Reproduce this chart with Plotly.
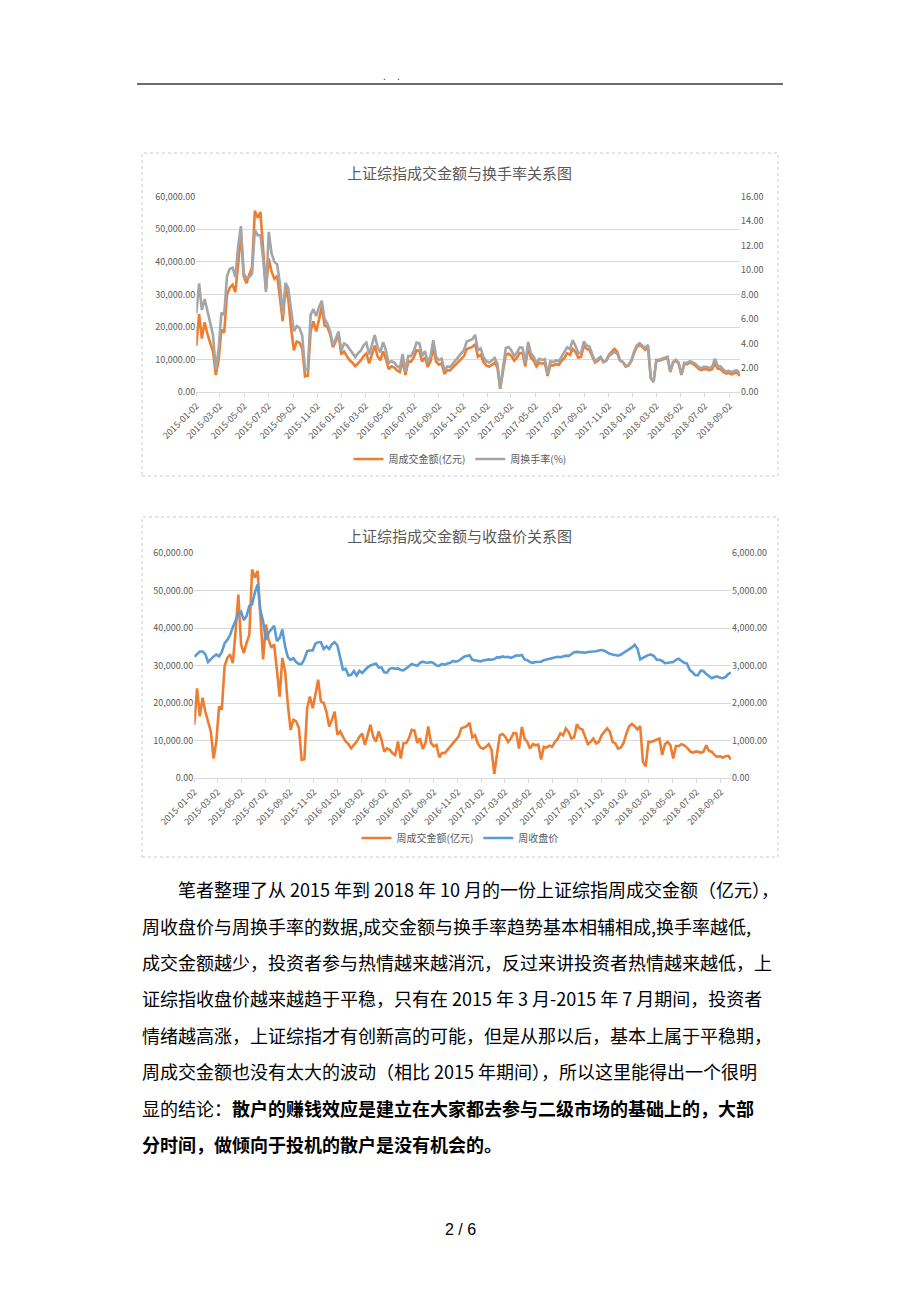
import plotly.graph_objects as go
import pandas as pd

W, H = 920, 1302

# ---------------- data (weekly) ----------------
week_start = "2015-01-02"
n_weeks = 196

amount = [
    14300, 24000, 16500, 21500, 17800, 15200, 12500, 5300, 9800, 19200,
    18300, 29900, 32100, 33000, 30700, 39200, 49000, 35700, 33400, 36100,
    38300, 55700, 53500, 55300, 44600, 31700, 41000, 37000, 34800, 35700,
    29000, 21800, 32100, 28500, 19600, 12900, 15600, 15200, 13400, 4900,
    5100, 18700, 21800, 18700, 22300, 26300, 20500, 20100, 17800, 13800,
    15600, 17800, 11600, 12500, 11100, 9800, 9100, 8000, 8900, 9800,
    11100, 11900, 8900, 11600, 14300, 11100, 9800, 12500, 10300, 7100,
    8000, 7600, 6700, 6200, 9800, 5300, 9400, 9400, 10700, 12900,
    12700, 9400, 10700, 7800, 9400, 13800, 9400, 8500, 8900, 5600,
    6800, 6700, 7600, 8500, 9400, 10300, 11100, 13300, 13700, 13900,
    14800, 10900, 11500, 9300, 8200, 7900, 8400, 9100, 7600, 1100,
    6500, 11500, 11800, 11100, 9700, 10600, 12100, 12000, 7900, 13700,
    10600, 9700, 7900, 9100, 8800, 9000, 5000, 8400, 8200, 8700,
    8400, 9700, 10500, 12000, 11500, 13300, 12400, 10600, 10900, 14400,
    13300, 13000, 11100, 9100, 9700, 10600, 9300, 9700, 11500, 12400,
    13300, 12400, 9700, 9300, 7900, 8200, 9500, 12000, 13900, 14500,
    13900, 13000, 13900, 4400, 3200, 9700, 9700, 10000, 10400, 10600,
    6200, 9100, 9700, 8800, 5300, 8600, 8600, 9100, 8800, 8200,
    7300, 6800, 7100, 7100, 6800, 7100, 8800, 7300, 7100, 6200,
    5700, 5900, 5500, 5900, 6000, 5000,
]

turnover = [
    6.44, 8.90, 6.73, 7.63, 6.65, 5.67, 4.67, 1.84, 3.53, 6.50,
    6.34, 9.49, 10.10, 10.21, 9.41, 11.92, 13.59, 9.71, 9.35, 9.43,
    9.70, 13.28, 12.85, 12.85, 10.83, 8.20, 13.12, 11.35, 10.67, 10.47,
    8.89, 6.30, 8.96, 8.50, 6.53, 4.99, 5.41, 5.27, 4.65, 1.83,
    1.90, 6.33, 6.80, 6.23, 6.96, 7.49, 6.01, 5.63, 4.98, 3.86,
    4.37, 4.98, 3.40, 4.00, 3.85, 3.53, 3.28, 2.88, 3.20, 3.40,
    3.85, 4.06, 3.09, 3.87, 4.69, 3.70, 3.27, 4.10, 3.43, 2.37,
    2.56, 2.43, 2.14, 1.98, 3.14, 1.70, 2.96, 2.96, 3.37, 4.06,
    4.00, 2.96, 3.37, 2.45, 2.96, 4.27, 2.91, 2.63, 2.75, 1.79,
    2.12, 2.07, 2.35, 2.63, 2.91, 3.21, 3.46, 4.15, 4.27, 4.34,
    4.70, 3.43, 3.59, 2.88, 2.54, 2.44, 2.60, 2.81, 2.33, 0.30,
    1.99, 3.62, 3.71, 3.43, 2.97, 3.25, 3.68, 3.65, 2.42, 4.13,
    3.19, 2.92, 2.38, 2.74, 2.65, 2.71, 1.47, 2.53, 2.47, 2.62,
    2.53, 2.92, 3.22, 3.68, 3.53, 4.26, 3.80, 3.17, 3.26, 4.15,
    3.83, 3.74, 3.11, 2.55, 2.72, 2.91, 2.48, 2.59, 2.97, 3.14,
    3.30, 3.14, 2.59, 2.48, 2.15, 2.23, 2.61, 3.33, 3.85, 4.02,
    3.85, 3.61, 3.89, 1.17, 0.85, 2.66, 2.66, 2.75, 2.86, 2.91,
    1.69, 2.50, 2.66, 2.42, 1.44, 2.41, 2.41, 2.55, 2.46, 2.34,
    2.10, 1.96, 2.08, 2.08, 1.99, 2.08, 2.75, 2.18, 2.12, 1.85,
    1.70, 1.76, 1.64, 1.76, 1.79, 1.49,
]

close = [
    3240, 3300, 3380, 3380, 3310, 3100, 3180, 3250, 3300, 3250,
    3370, 3600, 3690, 3820, 4030, 4200, 4380, 4440, 4220, 4330,
    4600, 4640, 4950, 5170, 4480, 4190, 3690, 3880, 3960, 4070,
    3660, 3740, 3970, 3510, 3230, 3160, 3200, 3100, 3050, 3050,
    3180, 3390, 3410, 3410, 3590, 3630, 3630, 3450, 3520, 3450,
    3580, 3630, 3540, 3190, 2900, 2920, 2740, 2760, 2860, 2740,
    2870, 2810, 2900, 2960, 3010, 3040, 3060, 2950, 2960, 2830,
    2820, 2920, 2940, 2920, 2930, 2890, 2880, 2930, 2990, 3050,
    3020, 3000, 3080, 3110, 3090, 3080, 3100, 3070, 3010, 3000,
    3050, 3030, 3060, 3080, 3130, 3110, 3130, 3190, 3240, 3260,
    3280, 3160, 3150, 3130, 3120, 3140, 3160, 3170, 3160, 3180,
    3230, 3220, 3250, 3230, 3240, 3210, 3240, 3280, 3270, 3290,
    3170, 3150, 3100, 3080, 3100, 3110, 3110, 3150, 3170, 3190,
    3210, 3220, 3240, 3230, 3250, 3270, 3260, 3310, 3360, 3370,
    3360, 3360, 3350, 3370, 3370, 3390, 3390, 3410, 3420, 3400,
    3350, 3320, 3300, 3290, 3270, 3300, 3350, 3390, 3430, 3490,
    3560, 3460, 3170, 3200, 3250, 3290, 3300, 3260, 3160, 3160,
    3130, 3070, 3080, 3090, 3100, 3160, 3190, 3130, 3080, 3060,
    2890, 2830, 2750, 2750, 2870, 2860, 2780, 2730, 2670, 2700,
    2720, 2680, 2670, 2700, 2780, 2820,
]

tick_labels = [
    "2015-01-02", "2015-03-02", "2015-05-02", "2015-07-02", "2015-09-02",
    "2015-11-02", "2016-01-02", "2016-03-02", "2016-05-02", "2016-07-02",
    "2016-09-02", "2016-11-02", "2017-01-02", "2017-03-02", "2017-05-02",
    "2017-07-02", "2017-09-02", "2017-11-02", "2018-01-02", "2018-03-02",
    "2018-05-02", "2018-07-02", "2018-09-02",
]

name_amount = "周成交金额(亿元)"
name_turn = "周换手率(%)"
name_close = "周收盘价"

title1 = "上证综指成交金额与换手率关系图"
title2 = "上证综指成交金额与收盘价关系图"

body_lines = [
    "笔者整理了从 2015 年到 2018 年 10 月的一份上证综指周成交金额（亿元），",
    "周收盘价与周换手率的数据,成交金额与换手率趋势基本相辅相成,换手率越低,",
    "成交金额越少，投资者参与热情越来越消沉，反过来讲投资者热情越来越低，上",
    "证综指收盘价越来越趋于平稳，只有在 2015 年 3 月-2015 年 7 月期间，投资者",
    "情绪越高涨，上证综指才有创新高的可能，但是从那以后，基本上属于平稳期，",
    "周成交金额也没有太大的波动（相比 2015 年期间），所以这里能得出一个很明",
    "显的结论：<b>散户的赚钱效应是建立在大家都去参与二级市场的基础上的，大部</b>",
    "<b>分时间，做倾向于投机的散户是没有机会的。</b>",
]
page_label = "2 / 6"

# ---------------- helpers ----------------
dates = pd.date_range(week_start, periods=n_weeks, freq="7D")
tick_dates = pd.to_datetime(tick_labels)


def fx(x):
    return x / W


def fy(y):
    return 1 - y / H


ORANGE = "#ED7D31"
GRAY = "#A5A5A5"
BLUE = "#5B9BD5"
TXT = "#595959"
GRID = "#D9D9D9"
CJK = "Noto Sans CJK SC"

fig = go.Figure()
fig.add_trace(go.Scatter(x=dates, y=amount, name=name_amount, mode="lines",
                         line=dict(color=ORANGE, width=2.6), xaxis="x", yaxis="y",
                         legend="legend"))
fig.add_trace(go.Scatter(x=dates, y=turnover, name=name_turn, mode="lines",
                         line=dict(color=GRAY, width=2.6), xaxis="x", yaxis="y2",
                         legend="legend"))
fig.add_trace(go.Scatter(x=dates, y=amount, name=name_amount, mode="lines",
                         line=dict(color=ORANGE, width=2.6), xaxis="x2", yaxis="y3",
                         legend="legend2"))
fig.add_trace(go.Scatter(x=dates, y=close, name=name_close, mode="lines",
                         line=dict(color=BLUE, width=2.6), xaxis="x2", yaxis="y4",
                         legend="legend2"))

tickfont = dict(family=CJK, size=9, color=TXT)


def xaxis_cfg(domain, anchor):
    return dict(domain=domain, anchor=anchor, type="date",
                range=[dates[0], dates[-1]],
                tickmode="array", tickvals=tick_dates, ticktext=tick_labels,
                tickangle=-45, ticks="outside", ticklen=4, tickcolor=GRID,
                showline=True, linecolor=GRID, linewidth=1, showgrid=False,
                zeroline=False, tickfont=tickfont, fixedrange=True,
                automargin=False)


def yleft_cfg(domain, anchor):
    return dict(domain=domain, anchor=anchor, range=[0, 60000], dtick=10000,
                tickformat=",.2f", showgrid=True, gridcolor=GRID, gridwidth=1,
                zeroline=False, showline=False, tickfont=tickfont, ticks="",
                fixedrange=True, automargin=False)


fig.update_layout(
    width=W, height=H,
    margin=dict(l=0, r=0, t=0, b=0, pad=0, autoexpand=False),
    paper_bgcolor="white", plot_bgcolor="white",
    xaxis=xaxis_cfg([fx(196.3), fx(740)], "y"),
    yaxis=yleft_cfg([fy(392.3), fy(196.7)], "x"),
    yaxis2=dict(overlaying="y", side="right", anchor="x", range=[0, 16], dtick=2,
                tickformat=".2f", showgrid=False, zeroline=False, showline=False,
                tickfont=tickfont, ticks="", fixedrange=True, automargin=False),
    xaxis2=xaxis_cfg([fx(194.3), fx(731)], "y3"),
    yaxis3=yleft_cfg([fy(778.3), fy(553.3)], "x2"),
    yaxis4=dict(overlaying="y3", side="right", anchor="x2", range=[0, 6000],
                dtick=1000, tickformat=",.2f", showgrid=False, zeroline=False,
                showline=False, tickfont=tickfont, ticks="", fixedrange=True,
                automargin=False),
    legend=dict(orientation="h", x=0.5, xanchor="center", y=fy(459),
                yanchor="middle", font=dict(family=CJK, size=10, color=TXT),
                itemwidth=30, bgcolor="rgba(0,0,0,0)", traceorder="normal"),
    legend2=dict(orientation="h", x=0.5, xanchor="center", y=fy(838),
                 yanchor="middle", font=dict(family=CJK, size=10, color=TXT),
                 itemwidth=30, bgcolor="rgba(0,0,0,0)", traceorder="normal"),
    showlegend=True,
)

annotations = [
    dict(text=title1, x=fx(459), y=fy(172.5), xref="paper", yref="paper",
         showarrow=False, xanchor="center", yanchor="middle",
         font=dict(family=CJK, size=15, color=TXT)),
    dict(text=title2, x=fx(459), y=fy(535.5), xref="paper", yref="paper",
         showarrow=False, xanchor="center", yanchor="middle",
         font=dict(family=CJK, size=15, color=TXT)),
    dict(text=".    .", x=fx(391), y=fy(76), xref="paper", yref="paper",
         showarrow=False, xanchor="center", yanchor="middle",
         font=dict(family="Liberation Sans", size=10, color="#333333")),
    dict(text=page_label, x=fx(460), y=fy(1229), xref="paper", yref="paper",
         showarrow=False, xanchor="center", yanchor="middle",
         font=dict(family="Liberation Sans", size=16, color="#000000")),
]
line_y = [889, 926, 962, 998, 1035, 1071, 1108, 1144]
for i, (txt, yy) in enumerate(zip(body_lines, line_y)):
    annotations.append(dict(
        text=txt, x=fx(176 if i == 0 else 140), y=fy(yy), xref="paper",
        yref="paper", showarrow=False, xanchor="left", yanchor="middle",
        font=dict(family=CJK, size=18, color="#000000")))
fig.update_layout(annotations=annotations)

shapes = [
    dict(type="line", xref="paper", yref="paper", x0=fx(137), x1=fx(783),
         y0=fy(84), y1=fy(84), line=dict(color="#3A3A3A", width=1.5)),
    dict(type="rect", xref="paper", yref="paper", x0=fx(142), x1=fx(778),
         y0=fy(476), y1=fy(153), line=dict(color="#CFC6D6", width=1, dash="dot")),
    dict(type="rect", xref="paper", yref="paper", x0=fx(142), x1=fx(778),
         y0=fy(857), y1=fy(517), line=dict(color="#CFC6D6", width=1, dash="dot")),
]
fig.update_layout(shapes=shapes)

fig.write_html("out.html", config={"displayModeBar": False})
